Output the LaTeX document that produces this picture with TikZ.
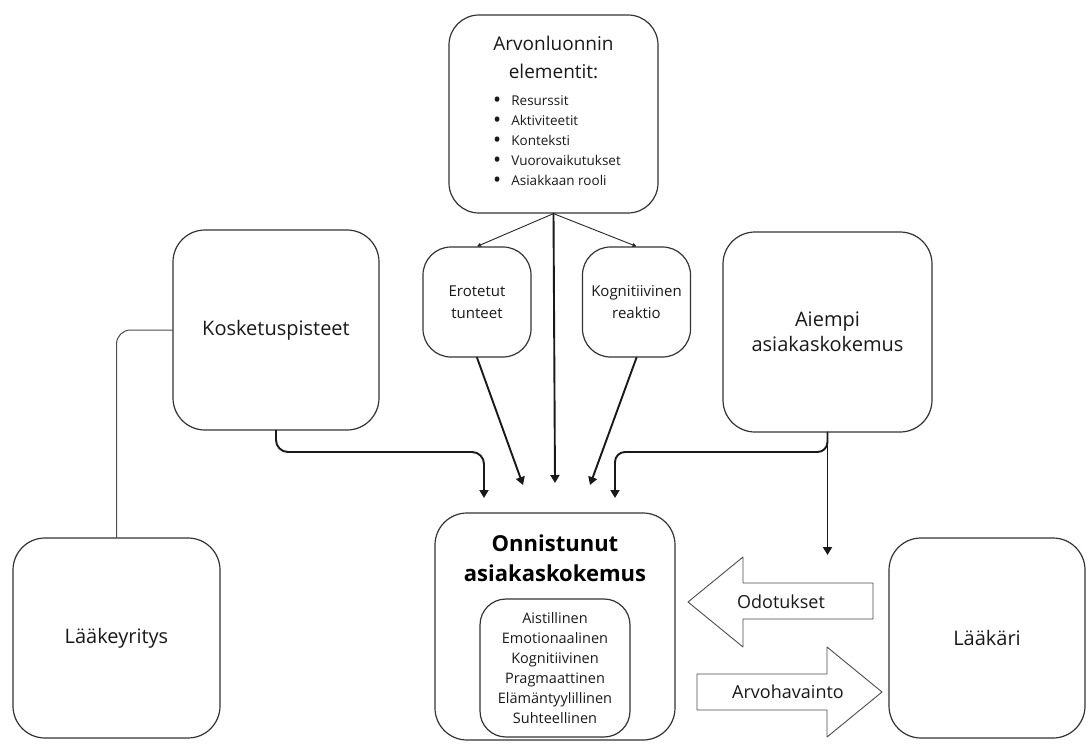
\documentclass[tikz,border=0pt]{standalone}
\usepackage{fontspec}
\setmainfont{Open Sans}
\usetikzlibrary{arrows.meta, positioning, calc}

\newcommand{\listdot}{\raisebox{-0.4ex}{\scalebox{1.6}{\textbullet}}}

\begin{document}
\begin{tikzpicture}[x=1pt, y=-1pt, line cap=round, line join=round,
    box/.style={draw=black!80, line width=1.2pt, rounded corners=32pt, align=center,
        text=black!90, font=\fontsize{20}{25}\selectfont},
    smallbox/.style={box, rounded corners=28pt, minimum width=108pt, minimum height=110pt,
        font=\fontsize{15}{22}\selectfont},
    thickarrow/.style={-{Triangle[width=9pt,length=8pt]}, line width=1.9pt, black!90},
    thinarrow/.style={-{Triangle[width=4pt,length=4pt]}, line width=0.9pt, black!85},
    blockarrow/.style={draw=black!70, line width=0.9pt, fill=white},
    arrowtext/.style={text=black!90, font=\fontsize{18}{22}\selectfont}]
    \useasboundingbox (0,0) rectangle (1086,747);

    % value creation elements
    \node[box, rounded corners=30pt, minimum width=209pt, minimum height=198pt] (elem) at (553.5,114) {};
    \node[align=center, text=black!90, font=\fontsize{19}{28}\selectfont] (elemtitle) at (553.5,57)
        {Arvonluonnin\\elementit:};
    \node[text=black!90, font=\fontsize{13.5}{20}\selectfont] (elemlist) at (557,141)
        {\begin{tabular}{@{}l@{\hspace{10pt}}l@{}}
           \listdot & Resurssit\\
           \listdot & Aktiviteetit\\
           \listdot & Konteksti\\
           \listdot & Vuorovaikutukset\\
           \listdot & Asiakkaan rooli
         \end{tabular}};

    % emotions and cognition
    \node[smallbox] (erot) at (477,302) {Erotetut\\tunteet};
    \node[smallbox] (kogn) at (636.5,302) {Kognitiivinen\\reaktio};

    % side boxes
    \node[box, minimum width=206pt, minimum height=200pt] (kosk) at (276,330) {Kosketuspisteet};
    \node[box, minimum width=209pt, minimum height=200pt] (aiempi) at (827.5,332) {Aiempi\\asiakaskokemus};
    \node[box, minimum width=207pt, minimum height=200pt] (laake) at (116.5,638) {Lääkeyritys};
    \node[box, minimum width=196pt, minimum height=200pt] (laakari) at (987,638) {Lääkäri};

    % successful customer experience
    \node[box, minimum width=240pt, minimum height=227pt] (onn) at (555,626.5) {};
    \node[align=center, text=black, font=\bfseries\fontsize{22}{30}\selectfont] (onntitle) at (555,558)
        {Onnistunut\\asiakaskokemus};
    \node[box, rounded corners=26pt, minimum width=150pt, minimum height=138pt,
        font=\fontsize{14.5}{20}\selectfont] (dims) at (555,668)
        {Aistillinen\\Emotionaalinen\\Kognitiivinen\\Pragmaattinen\\Elämäntyylillinen\\Suhteellinen};

    % arrow ends above the centre box
    \coordinate (kosk end) at (484,498);
    \coordinate (erot end) at (523,485);
    \coordinate (elem end) at (555,483);
    \coordinate (kogn end) at (590,485);
    \coordinate (aiempi end) at (615,498);
    \coordinate (odot end) at (827.5,555);

    % connectors
    \draw[thinarrow] (elem.south) -- (erot.north);
    \draw[thinarrow] (elem.south) -- (kogn.north);
    \draw[thickarrow] (elem.south) -- (elem end);
    \draw[thickarrow] (erot.south) -- (erot end);
    \draw[thickarrow] (kogn.south) -- (kogn end);
    \draw[thickarrow, rounded corners=12pt] (kosk.south) |- ($(kosk end)+(0,-46)$) -- (kosk end);
    \draw[thickarrow, rounded corners=10pt] (aiempi.south) |- ($(aiempi end)+(0,-46)$) -- (aiempi end);
    \draw[thickarrow] (aiempi.south) -- (odot end);
    \draw[black!70, line width=1pt, rounded corners=14pt] (kosk.west) -| (laake.north);

    % expectations and perceived value
    \draw[blockarrow] (688,602) -- (743,557) -- (743,583) -- (873,583) -- (873,619)
        -- (743,619) -- (743,647) -- cycle;
    \node[arrowtext] (odot) at (781,602) {Odotukset};
    \draw[blockarrow] (697,674) -- (827,674) -- (827,647) -- (882,692) -- (827,737)
        -- (827,710) -- (697,710) -- cycle;
    \node[arrowtext] (arvo) at (788,692) {Arvohavainto};
\end{tikzpicture}
\end{document}
